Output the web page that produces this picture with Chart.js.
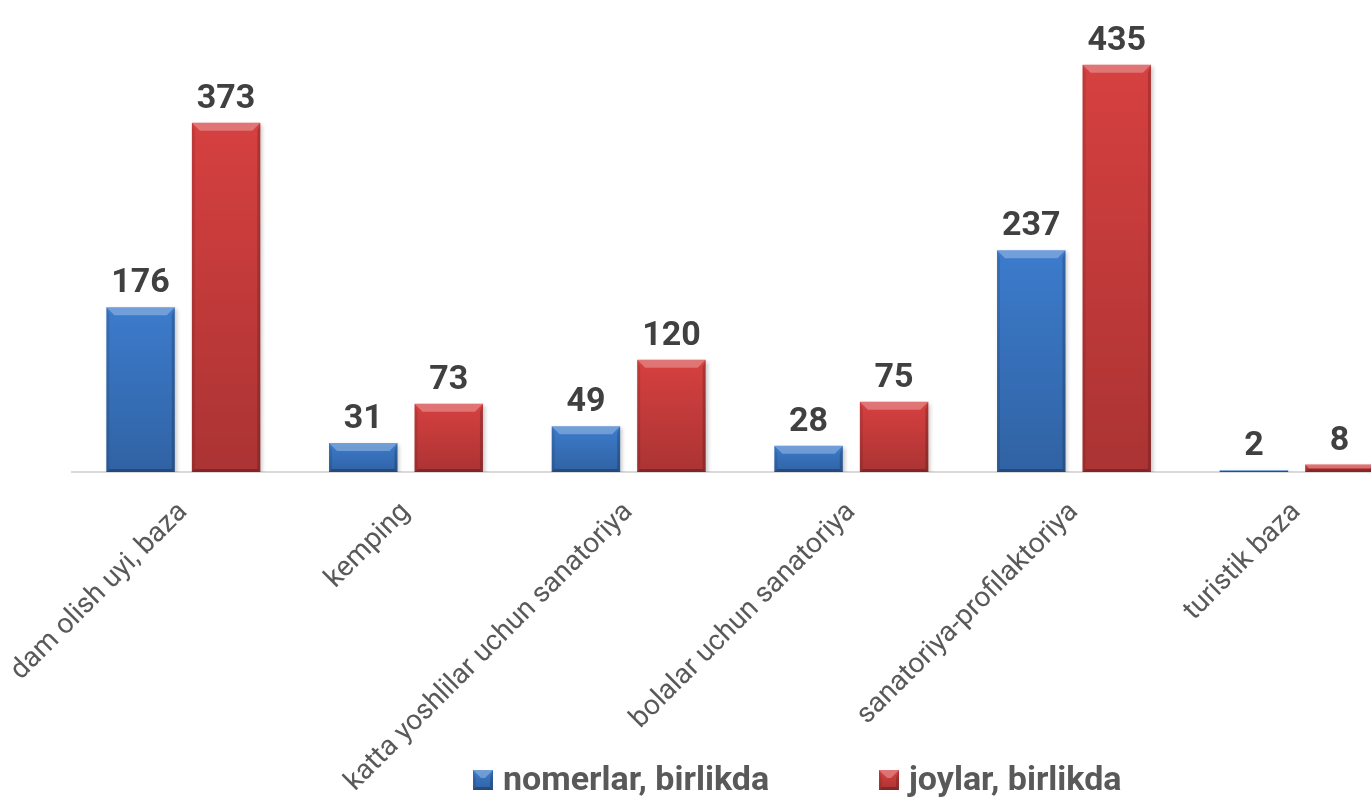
<!DOCTYPE html>
<html>
<head>
<meta charset="utf-8">
<title>nomerlar va joylar</title>
<script src="https://cdn.jsdelivr.net/npm/chart.js@4.4.1/dist/chart.umd.min.js"></script>
<style>
html, body { margin: 0; padding: 0; background: #fff; overflow: hidden; }
#wrap { position: relative; width: 1482px; height: 797px; }
</style>
</head>
<body>
<div id="wrap"><canvas id="chart"></canvas></div>
<script>
var categories = ['dam olish uyi, baza', 'kemping', 'katta yoshlilar uchun sanatoriya', 'bolalar uchun sanatoriya', 'sanatoriya-profilaktoriya', 'turistik baza'];
var nomerlar = [176, 31, 49, 28, 237, 2];
var joylar = [373, 73, 120, 75, 435, 8];
var seriesNames = ['nomerlar, birlikda', 'joylar, birlikda'];
var seriesColors = ['#3c7bcc', '#d64040'];

// bevel + shading on top of each bar (Excel style)
function bevelRect(ctx, l, t, r, b) {
    var h = b - t;
    var w = r - l;
    if (h <= 0) return;
    var bt = Math.min(8, h / 2);
    var bs = Math.min(3, w / 4, h / 2);
    ctx.save();
    var g = ctx.createLinearGradient(0, t, 0, b);
    g.addColorStop(0, 'rgba(0,0,0,0)');
    g.addColorStop(1, 'rgba(0,0,0,0.2)');
    ctx.fillStyle = g;
    ctx.fillRect(l, t, w, h);
    // top
    ctx.fillStyle = 'rgba(255,255,255,0.28)';
    ctx.beginPath();
    ctx.moveTo(l, t); ctx.lineTo(r, t); ctx.lineTo(r - bt, t + bt); ctx.lineTo(l + bt, t + bt);
    ctx.closePath(); ctx.fill();
    // left
    ctx.fillStyle = 'rgba(0,0,0,0.10)';
    ctx.beginPath();
    ctx.moveTo(l, t); ctx.lineTo(l + bs, t + bt); ctx.lineTo(l + bs, b - bs); ctx.lineTo(l, b);
    ctx.closePath(); ctx.fill();
    // right
    ctx.fillStyle = 'rgba(0,0,0,0.18)';
    ctx.beginPath();
    ctx.moveTo(r, t); ctx.lineTo(r - bs, t + bt); ctx.lineTo(r - bs, b - bs); ctx.lineTo(r, b);
    ctx.closePath(); ctx.fill();
    // bottom
    ctx.fillStyle = 'rgba(0,0,0,0.25)';
    ctx.beginPath();
    ctx.moveTo(l, b); ctx.lineTo(r, b); ctx.lineTo(r - bs, b - bs); ctx.lineTo(l + bs, b - bs);
    ctx.closePath(); ctx.fill();
    ctx.restore();
}

var barLook = {
    id: 'barLook',
    beforeDatasetsDraw: function(chart) {
        var ctx = chart.ctx;
        ctx.save();
        ctx.shadowColor = 'rgba(0,0,0,0.22)';
        ctx.shadowBlur = 4;
        ctx.shadowOffsetX = 2;
        ctx.shadowOffsetY = 2;
    },
    afterDatasetsDraw: function(chart) {
        var ctx = chart.ctx;
        ctx.restore();
        chart.data.datasets.forEach(function(ds, i) {
            var meta = chart.getDatasetMeta(i);
            meta.data.forEach(function(el, j) {
                var p = el.getProps(['x', 'y', 'base', 'width'], true);
                var l = p.x - p.width / 2, r = p.x + p.width / 2;
                bevelRect(ctx, l, Math.min(p.y, p.base), r, Math.max(p.y, p.base));
                // value label
                ctx.save();
                ctx.font = 'bold 34px Roboto';
                ctx.fillStyle = '#404040';
                ctx.textAlign = 'center';
                ctx.textBaseline = 'alphabetic';
                ctx.fillText(ds.data[j], p.x, p.y - 15);
                ctx.restore();
            });
        });
    },
    afterDraw: function(chart) {
        // legend: two items under the axis labels
        var ctx = chart.ctx;
        ctx.save();
        ctx.font = 'bold 34px Roboto';
        var box = 20, gap = 10;
        var starts = [chart.width / 2 - 268, chart.width / 2 + 138];
        var cy = 780;
        seriesNames.forEach(function(n, i) {
            var x = starts[i];
            ctx.fillStyle = seriesColors[i];
            ctx.fillRect(x, cy - box / 2, box, box);
            bevelRect(ctx, x, cy - box / 2, x + box, cy + box / 2);
            ctx.fillStyle = '#595959';
            ctx.textAlign = 'left';
            ctx.textBaseline = 'middle';
            ctx.fillText(n, x + box + gap, cy + 1);
        });
        ctx.restore();
    }
};

new Chart(document.getElementById('chart'), {
    type: 'bar',
    data: {
        labels: categories,
        datasets: [{
            label: seriesNames[0],
            data: nomerlar,
            backgroundColor: seriesColors[0],
            categoryPercentage: 0.768,
            barPercentage: 0.8
        }, {
            label: seriesNames[1],
            data: joylar,
            backgroundColor: seriesColors[1],
            categoryPercentage: 0.768,
            barPercentage: 0.8
        }]
    },
    options: {
        responsive: true,
        maintainAspectRatio: false,
        animation: false,
        layout: {
            padding: { left: 72, right: 74, top: 4, bottom: 0 }
        },
        plugins: {
            legend: { display: false },
            tooltip: { enabled: false }
        },
        scales: {
            x: {
                grid: { display: false, drawTicks: false },
                border: { display: true, color: '#d9d9d9', width: 2 },
                ticks: {
                    minRotation: 45,
                    maxRotation: 45,
                    autoSkip: false,
                    padding: 24,
                    color: '#595959',
                    font: { family: 'Roboto', size: 28 }
                },
                afterFit: function(scale) {
                    scale.height = 325;
                    scale.paddingLeft = 0;
                    scale.paddingRight = 0;
                }
            },
            y: {
                display: false,
                min: 0,
                max: 500
            }
        }
    },
    plugins: [barLook]
});
</script>
</body>
</html>
